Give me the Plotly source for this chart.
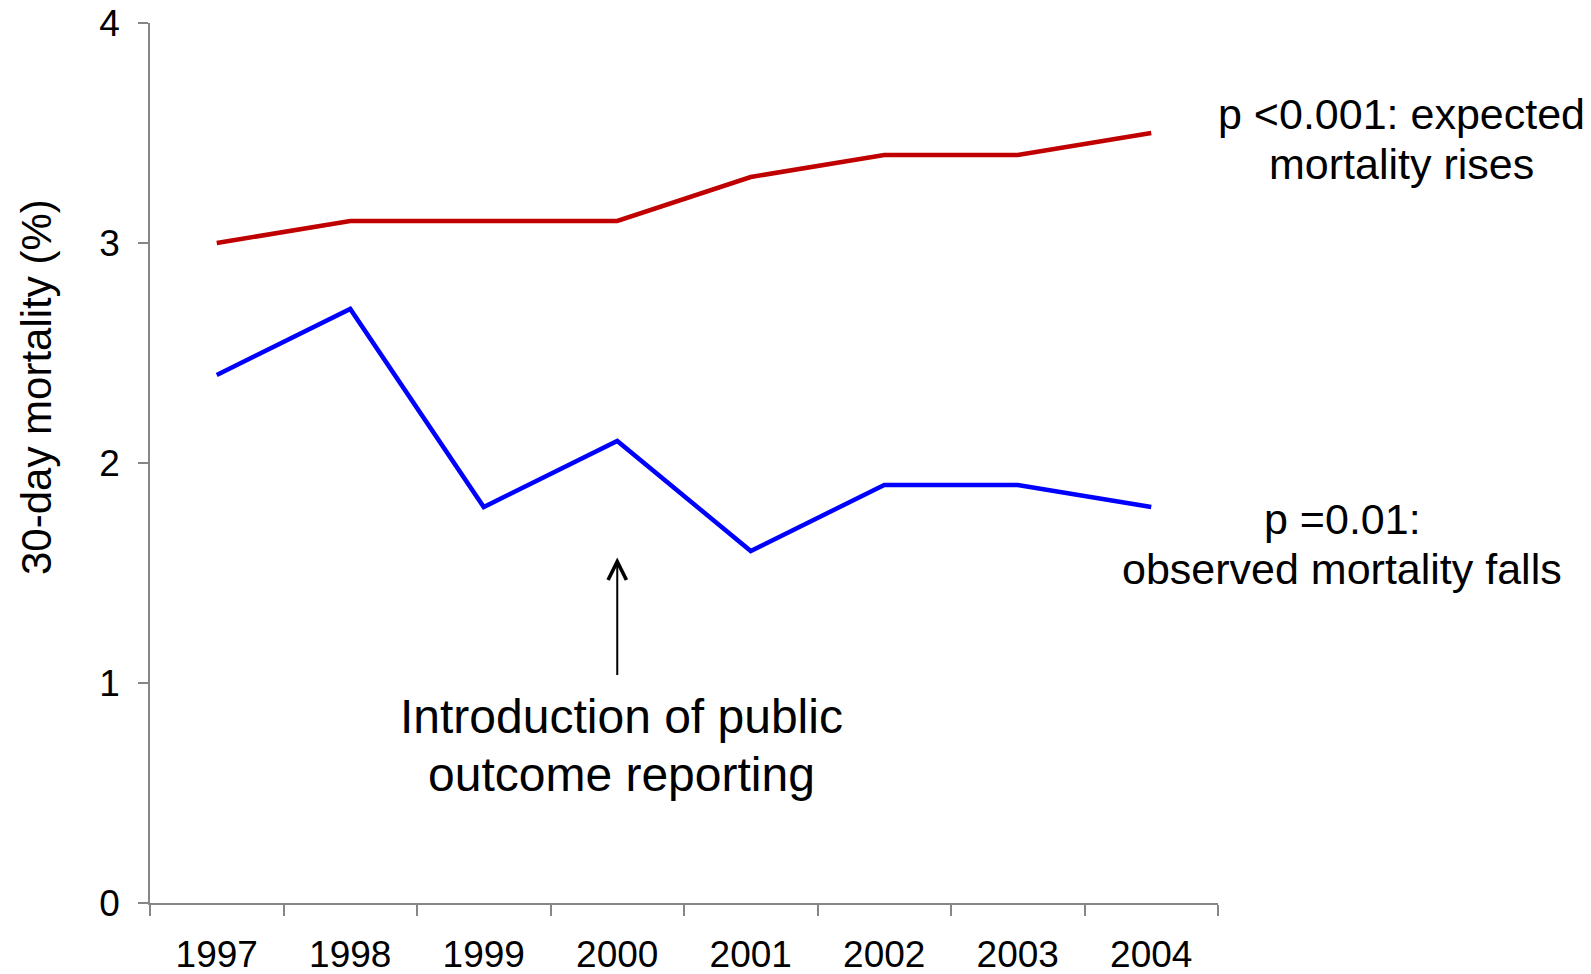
import plotly.graph_objects as go

# 30-day mortality by year
years = ["1997", "1998", "1999", "2000", "2001", "2002", "2003", "2004"]
expected_mortality = [3.0, 3.1, 3.1, 3.1, 3.3, 3.4, 3.4, 3.5]
observed_mortality = [2.4, 2.7, 1.8, 2.1, 1.6, 1.9, 1.9, 1.8]
y_ticks = [0, 1, 2, 3, 4]

W, H = 1591, 974
L, R, T, B = 150, 1218, 23, 903
FONT = "Liberation Sans, Arial, sans-serif"
AXIS_GREY = "#868686"


def px(x):
    return (x - L) / (R - L)


def py(y):
    return (B - y) / (B - T)


fig = go.Figure()
fig.add_trace(go.Scatter(x=years, y=expected_mortality, mode="lines",
                         line=dict(color="#C00000", width=4.5), showlegend=False))
fig.add_trace(go.Scatter(x=years, y=observed_mortality, mode="lines",
                         line=dict(color="#0000FF", width=4.5), showlegend=False))

annotations = []


def label(text, x, y, size):
    annotations.append(dict(text=text, x=px(x), y=py(y), xref="paper", yref="paper",
                            xanchor="center", yanchor="middle", showarrow=False,
                            font=dict(family=FONT, size=size, color="black")))


label("p &lt;0.001: expected", 1401, 114, 43)
label("mortality rises", 1401, 164, 43)
label("p =0.01:", 1342, 519, 43)
label("observed mortality falls", 1342, 569, 43)
label("Introduction of public", 621, 716, 48)
label("outcome reporting", 621, 774, 48)

# arrow pointing at the year reporting began
annotations.append(dict(text="", x=3, y=1.57, xref="x", yref="y",
                        ax=3, ay=1.03, axref="x", ayref="y",
                        showarrow=True, arrowhead=5, arrowsize=1.8, arrowwidth=2,
                        arrowcolor="black", standoff=0, startstandoff=0))

# y-axis title
annotations.append(dict(text="30-day mortality (%)", x=px(36), y=py(387),
                        xref="paper", yref="paper", textangle=-90,
                        xanchor="center", yanchor="middle", showarrow=False,
                        font=dict(family=FONT, size=42, color="black")))

fig.update_layout(
    width=W, height=H,
    margin=dict(l=L, r=W - R, t=T, b=H - B, pad=0, autoexpand=False),
    paper_bgcolor="white", plot_bgcolor="white",
    font=dict(family=FONT, color="black"),
    annotations=annotations,
    xaxis=dict(type="category", range=[-0.5, 7.5], tickson="boundaries",
               automargin=False,
               showline=True, linecolor=AXIS_GREY, linewidth=1.5,
               ticks="outside", ticklen=11, tickwidth=1.5, tickcolor=AXIS_GREY,
               showgrid=False, zeroline=False, ticklabelstandoff=18,
               tickfont=dict(family=FONT, size=37, color="black")),
    yaxis=dict(range=[0, 4], tickvals=y_ticks, ticktext=[str(v) for v in y_ticks],
               automargin=False,
               showline=True, linecolor=AXIS_GREY, linewidth=1.5,
               ticks="outside", ticklen=10, tickwidth=1.5, tickcolor=AXIS_GREY,
               showgrid=False, zeroline=False, ticklabelstandoff=11,
               tickfont=dict(family=FONT, size=37, color="black")),
)

fig.write_html("out.html")
